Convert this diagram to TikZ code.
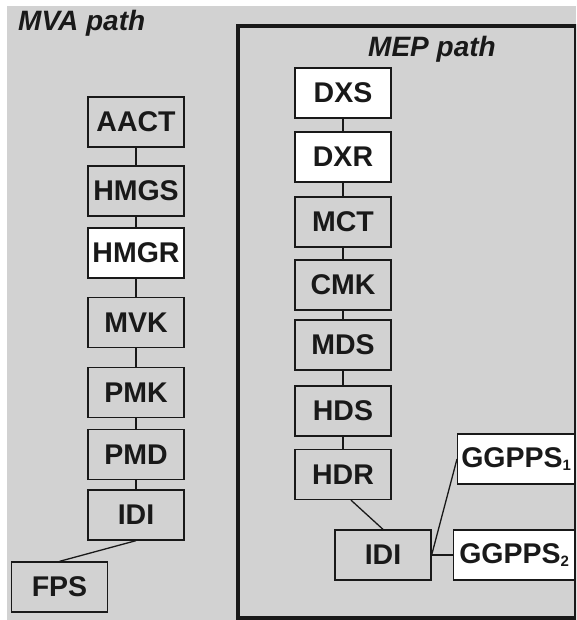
\documentclass[tikz,border=0pt]{standalone}
\usepackage{fontspec}
\setmainfont{Liberation Sans}
\definecolor{panelgray}{RGB}{210,210,210}
\definecolor{inkgray}{RGB}{25,25,25}
\newcommand{\idx}[1]{\raisebox{-3pt}{\fontsize{15}{15}\selectfont #1}}
\tikzset{
  enz/.style={draw=inkgray, line width=1.3pt, minimum width=96pt, minimum height=50pt,
    inner sep=2pt, text=inkgray, font=\bfseries\fontsize{28.5}{30}\selectfont},
  pathlabel/.style={inner sep=0pt, text=inkgray, font=\bfseries\itshape\fontsize{28}{30}\selectfont},
  link/.style={draw=inkgray, line width=1.3pt}
}
\begin{document}
\begin{tikzpicture}[x=1pt,y=-1pt]
\useasboundingbox (0,0) rectangle (576,620);
\clip (0,0) rectangle (576,620);
\fill[white] (0,0) rectangle (576,620);
\fill[panelgray] (7,6) rectangle (576,620);
\draw[inkgray, line width=4pt] (238,26) rectangle (576,618);

\node[pathlabel, anchor=base west] (mva) at (18,31) {MVA path};
\node[pathlabel, anchor=base] (mep) at (432,57) {MEP path};

\foreach \nm/\txt/\yy/\fc in {aact/AACT/122/panelgray, hmgs/HMGS/191/panelgray,
  hmgr/HMGR/253/white, mvk/MVK/322.5/panelgray, pmk/PMK/392.5/panelgray,
  pmd/PMD/454.5/panelgray, idia/IDI/515/panelgray}
\node[enz, fill=\fc] (\nm) at (136,\yy) {\txt};

\node[enz, fill=panelgray] (fps) at (59.5,587) {FPS};

\foreach \nm/\txt/\yy/\fc in {dxs/DXS/93/white, dxr/DXR/157/white, mct/MCT/222/panelgray,
  cmk/CMK/285/panelgray, mds/MDS/345/panelgray, hds/HDS/411/panelgray, hdr/HDR/474.5/panelgray}
\node[enz, fill=\fc] (\nm) at (343,\yy) {\txt};

\node[enz, fill=panelgray] (idib) at (383,555) {IDI};
\node[enz, fill=white, anchor=west, minimum width=117pt] (ggppsa) at (457,459) {GGPPS\idx{1}};
\node[enz, fill=white, anchor=west, minimum width=121pt] (ggppsb) at (453,555) {GGPPS\idx{2}};

\foreach \a/\b in {aact/hmgs, hmgs/hmgr, hmgr/mvk, mvk/pmk, pmk/pmd, pmd/idia,
  dxs/dxr, dxr/mct, mct/cmk, cmk/mds, mds/hds, hds/hdr}
\draw[link] (\a) -- (\b);

\draw[link] (idia.south) -- (fps.north);
\draw[link] ([xshift=8pt]hdr.south) -- (idib.north);
\draw[link] (idib.east) -- (ggppsa.west);
\draw[link] (idib.east) -- (ggppsb.west);
\end{tikzpicture}
\end{document}
